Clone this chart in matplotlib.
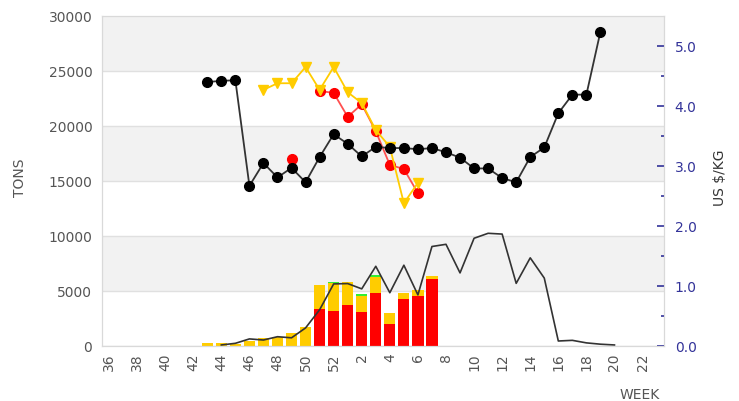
import numpy as np
import matplotlib.pyplot as plt
from matplotlib.ticker import FixedLocator

# week axis: 36..52 then 1..23
weeks = list(range(36, 53)) + list(range(1, 24))
pos = {w: i for i, w in enumerate(weeks)}

# stacked bars (tons)
bar_weeks = [43, 44, 45, 46, 47, 48, 49, 50, 51, 52, 1, 2, 3, 4, 5, 6, 7]
red_tons = [0, 0, 0, 0, 0, 0, 0, 0, 3340, 3210, 3730, 3090, 4850, 1970, 4240, 4580, 6090]
yellow_tons = [240, 270, 150, 480, 700, 850, 1200, 1700, 2230, 2490, 2100, 1460, 1450, 1000, 610, 510, 270]
green_tons = [0, 0, 0, 0, 0, 0, 0, 0, 0, 150, 0, 150, 150, 0, 0, 0, 0]

# thin line (tons, previous season)
line_weeks = [44, 45, 46, 47, 48, 49, 50, 51, 52, 1, 2, 3, 4, 5, 6, 7, 8, 9, 10,
              11, 12, 13, 14, 15, 16, 17, 18, 19, 20]
line_tons = [100, 250, 650, 550, 850, 750, 1650, 3300, 5650, 5680, 5200, 7250, 4850,
             7350, 4650, 9050, 9250, 6650, 9800, 10250, 10180, 5700, 8020, 6180,
             460, 520, 290, 170, 100]

# prices (US $/KG)
black_weeks = [43, 44, 45, 46, 47, 48, 49, 50, 51, 52, 1, 2, 3, 4, 5, 6, 7, 8, 9,
               10, 11, 12, 13, 14, 15, 16, 17, 18, 19]
black_price = [4.40, 4.42, 4.43, 2.67, 3.05, 2.81, 2.97, 2.73, 3.15, 3.53, 3.37, 3.16,
               3.32, 3.30, 3.30, 3.28, 3.30, 3.23, 3.14, 2.96, 2.96, 2.80, 2.73, 3.15,
               3.31, 3.88, 4.19, 4.19, 5.24]
red_weeks = [49, 50, 51, 52, 1, 2, 3, 4, 5, 6]
red_price = [3.12, np.nan, 4.25, 4.22, 3.82, 4.03, 3.58, 3.02, 2.95, 2.55]
yellow_weeks = [47, 48, 49, 50, 51, 52, 1, 2, 3, 4, 5, 6]
yellow_price = [4.27, 4.38, 4.38, 4.65, 4.27, 4.65, 4.23, 4.05, 3.60, 3.32, 2.38, 2.72]

RED = '#ff0000'
YEL = '#ffcc00'
GRN = '#33ee33'
GRAY = '#555555'
BLUE = '#333399'

fig, ax = plt.subplots(figsize=(7.39, 4.01), dpi=100)
fig.subplots_adjust(left=0.138, right=0.898, top=0.960, bottom=0.137)

# alternating bands and grid
for k in range(6):
    if k % 2 == 1:
        ax.axhspan(k * 5000, (k + 1) * 5000, color='#f2f2f2', zorder=0, lw=0)
    ax.axhline(k * 5000, color='#e0e0e0', lw=1, zorder=0.5)

bx = [pos[w] for w in bar_weeks]
red_tons = np.array(red_tons)
yellow_tons = np.array(yellow_tons)
green_tons = np.array(green_tons)
ax.bar(bx, red_tons, width=0.8, color=RED, zorder=2)
ax.bar(bx, yellow_tons, width=0.8, bottom=red_tons, color=YEL, zorder=2)
ax.bar(bx, green_tons, width=0.8, bottom=red_tons + yellow_tons, color=GRN, zorder=2)

ax.plot([pos[w] for w in line_weeks], line_tons, color='#333333', lw=1.2, zorder=3)

ax.set_xlim(-0.5, len(weeks) - 0.5)
ax.set_ylim(0, 30000)
ax.set_yticks(range(0, 30001, 5000))
ax.set_xticks(range(0, len(weeks), 2))
ax.set_xticklabels([str(weeks[i]) for i in range(0, len(weeks), 2)], rotation=90)
ax.tick_params(axis='y', length=0, pad=7, labelcolor=GRAY, labelsize=10)
ax.tick_params(axis='x', length=0, pad=5, labelcolor=GRAY, labelsize=10)
for s in ax.spines.values():
    s.set_color('#d9d9d9')

ax2 = ax.twinx()
ax2.plot([pos[w] for w in black_weeks], black_price, color='#333333', lw=1.3,
         marker='o', ms=7, mfc='black', mec='black', zorder=5)
ax2.plot([pos[w] for w in red_weeks], red_price, color='#ff5050', lw=1.3,
         marker='o', ms=7, mfc=RED, mec=RED, zorder=4)
ax2.plot([pos[w] for w in yellow_weeks], yellow_price, color=YEL, lw=1.3,
         marker='v', ms=7.5, mfc=YEL, mec=YEL, zorder=4)
ax2.set_ylim(0, 5.5)
ax2.set_yticks(np.arange(0, 5.01, 1.0))
ax2.set_yticklabels([f'{v:.1f}' for v in np.arange(0, 5.01, 1.0)])
ax2.yaxis.set_minor_locator(FixedLocator(np.arange(0.5, 5.0, 1.0)))
ax2.tick_params(axis='y', which='major', direction='in', length=5, width=1.2,
                color=BLUE, labelcolor=BLUE, labelsize=10, pad=8)
ax2.tick_params(axis='y', which='minor', direction='in', length=2.5, width=1.2,
                color=BLUE)
for s in ax2.spines.values():
    s.set_color('#d9d9d9')

fig.text(0.027, 0.556, 'TONS', rotation=90, ha='center', va='center',
         color=GRAY, fontsize=10)
fig.text(0.974, 0.556, 'US $/KG', rotation=90, ha='center', va='center',
         color='#333333', fontsize=10)
fig.text(0.866, 0.015, 'WEEK', ha='center', va='center', color=GRAY, fontsize=10)

plt.savefig('out.png', dpi=100)
